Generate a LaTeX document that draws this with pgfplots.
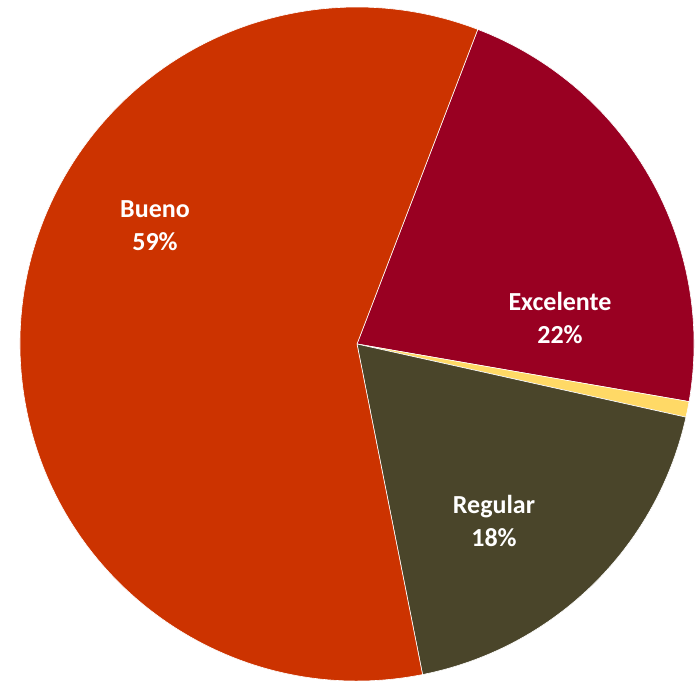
\documentclass[border=0pt]{standalone}
\usepackage{pgfplots}
\usepackage{pgfplotstable}
\pgfplotsset{compat=1.18}
\usepackage{fontspec}
\setmainfont{Carlito}

\definecolor{cExc}{RGB}{153,0,34}
\definecolor{cOtro}{RGB}{255,217,102}
\definecolor{cReg}{RGB}{74,69,42}
\definecolor{cBue}{RGB}{204,51,0}

% porcentajes, en el orden de las agujas del reloj
\pgfplotstableread{
label      pct    col
Excelente  21.9   cExc
Otro       0.75   cOtro
Regular    18.4   cReg
Bueno      58.95  cBue
}\piedata

\begin{document}
\begin{tikzpicture}
  % angulos de cada sector (inicio a 69 grados, sentido horario)
  \def\cum{69}
  \pgfplotsforeachungrouped \i in {0,...,3}{%
    \pgfplotstablegetelem{\i}{pct}\of\piedata
    \pgfmathsetmacro\endang{\cum - 3.6*\pgfplotsretval}%
    \expandafter\edef\csname s\i\endcsname{\cum}%
    \expandafter\edef\csname e\i\endcsname{\endang}%
    \pgfplotstablegetelem{\i}{col}\of\piedata
    \expandafter\edef\csname c\i\endcsname{\pgfplotsretval}%
    \let\cum\endang
  }
  \def\R{168.5pt}
  \begin{axis}[
      width=350pt, height=340pt,
      scale only axis,
      xmin=-357, xmax=343,
      ymin=-336, ymax=344,
      hide axis,
      clip=false,
    ]
    \coordinate (bl) at (rel axis cs:0,0);
    \coordinate (tr) at (rel axis cs:1,1);
    \pgfplotsinvokeforeach{0,...,3}{
      \fill[\csname c#1\endcsname, draw=white, line width=0.3pt]
        (axis cs:0,0) -- ++(\csname s#1\endcsname:\R)
        arc[start angle=\csname s#1\endcsname,
            end angle=\csname e#1\endcsname, radius=\R] -- cycle;
    }
    \begin{scope}[every node/.style={text=white, align=center,
        font=\fontsize{13}{16.5}\selectfont\bfseries}]
      \node at (axis cs:-202,118) {Bueno\\59\%};
      \node at (axis cs:203,26) {Excelente\\22\%};
      \node at (axis cs:137,-177) {Regular\\18\%};
    \end{scope}
  \end{axis}
  \pgfresetboundingbox
  \path (bl) rectangle (tr);
\end{tikzpicture}
\end{document}
